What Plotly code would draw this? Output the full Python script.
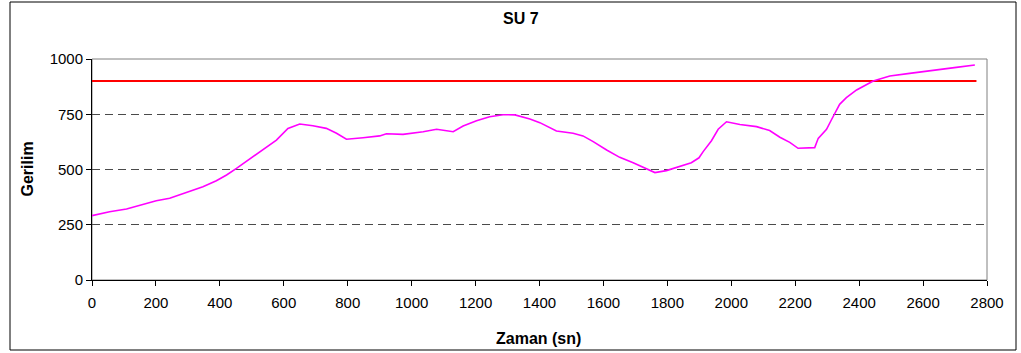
import plotly.graph_objects as go

# Measured tension over time (Zaman in seconds, Gerilim)
zaman = [0, 55, 108, 149, 201, 243, 306, 347, 389, 421, 452, 493, 535, 577, 613,
         650, 691, 733, 765, 796, 848, 900, 921, 973, 1036, 1078, 1130, 1161,
         1203, 1244, 1286, 1323, 1370, 1401, 1453, 1505, 1536, 1568, 1610, 1651,
         1693, 1735, 1761, 1797, 1839, 1875, 1899, 1912, 1938, 1959, 1985, 2027,
         2079, 2120, 2152, 2183, 2209, 2261, 2272, 2298, 2313, 2339, 2360, 2392,
         2444, 2496, 2558, 2631, 2704, 2762]
gerilim = [291, 309, 321, 339, 359, 370, 400, 422, 449, 475, 505, 546, 588, 633, 686,
           706, 698, 686, 664, 637, 644, 652, 662, 659, 671, 682, 671, 697,
           721, 739, 748, 747, 729, 712, 674, 664, 652, 626, 588, 555,
           531, 505, 486, 495, 513, 531, 553, 581, 630, 682, 716, 704,
           694, 676, 646, 623, 596, 599, 641, 682, 724, 795, 825, 860,
           900, 923, 935, 950, 962, 973]

# Limit line
limit_x = [0, 2767]
limit_y = [900, 900]

x_ticks = list(range(0, 2801, 200))
y_ticks = [0, 250, 500, 750, 1000]

fig = go.Figure()
fig.add_trace(go.Scatter(x=limit_x, y=limit_y, mode="lines",
                         line=dict(color="#FF0000", width=2), showlegend=False))
fig.add_trace(go.Scatter(x=zaman, y=gerilim, mode="lines",
                         line=dict(color="#FF00FF", width=1.6), showlegend=False))

font = dict(family="Liberation Sans, Arial, sans-serif", size=15, color="black")

fig.update_layout(
    width=1021, height=353,
    margin=dict(l=92, r=34, t=59, b=73),
    paper_bgcolor="white", plot_bgcolor="white",
    font=font,
    xaxis=dict(range=[0, 2800], tickvals=x_ticks, showgrid=False, zeroline=False,
               showline=True, linecolor="black", linewidth=1,
               ticks="outside", ticklen=5, tickcolor="black",
               ticklabelstandoff=4, tickfont=dict(size=15)),
    yaxis=dict(range=[0, 1000], tickvals=y_ticks, showgrid=True,
               gridcolor="#4a4a4a", gridwidth=1.2, griddash="8px,5px",
               zeroline=False, showline=True, linecolor="black", linewidth=1,
               ticks="outside", ticklen=5, tickcolor="black",
               tickfont=dict(size=15)),
    shapes=[
        # plot area border
        dict(type="rect", xref="paper", yref="paper", x0=0, x1=1, y0=0, y1=1,
             line=dict(color="#808080", width=1), layer="below"),
        # chart frame
        dict(type="rect", xref="paper", yref="paper",
             x0=(10 - 92) / 895, x1=(1016 - 92) / 895,
             y0=(280 - 350) / 221, y1=(280 - 2) / 221,
             line=dict(color="black", width=1)),
    ],
    annotations=[
        dict(text="<b>SU 7</b>", xref="paper", yref="paper",
             x=(521 - 92) / 895, y=(280 - 18) / 221, showarrow=False,
             font=dict(size=16), xanchor="center", yanchor="middle"),
        dict(text="<b>Zaman (sn)</b>", xref="paper", yref="paper",
             x=(538 - 92) / 895, y=(280 - 338) / 221, showarrow=False,
             font=dict(size=16), xanchor="center", yanchor="middle"),
        dict(text="<b>Gerilim</b>", xref="paper", yref="paper",
             x=(27 - 92) / 895, y=0.5, showarrow=False, textangle=-90,
             font=dict(size=16), xanchor="center", yanchor="middle"),
    ],
)

fig.write_html("out.html")
